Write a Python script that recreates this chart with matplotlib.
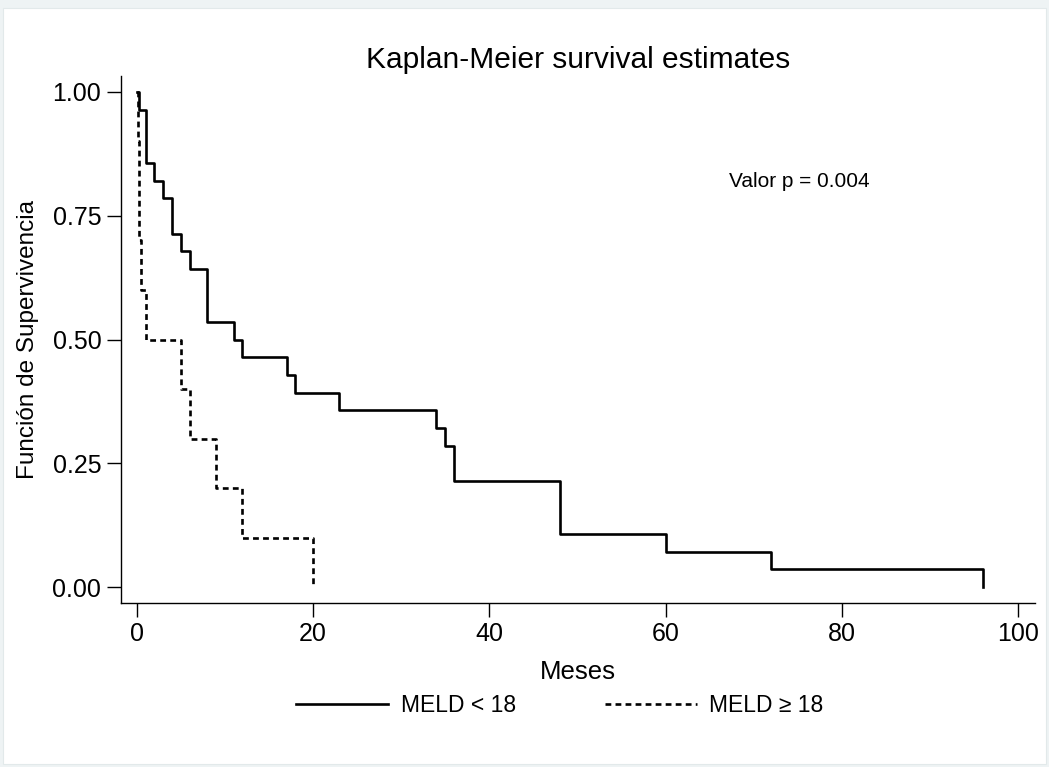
import matplotlib
matplotlib.use("Agg")
import matplotlib.pyplot as plt
from matplotlib.patches import Rectangle
from matplotlib.lines import Line2D

plt.rcParams['font.family'] = ['Liberation Sans', 'DejaVu Sans']

# Kaplan-Meier step data (months, survival after the step)
low_times = [0, 0.25, 1, 2, 3, 4, 5, 6, 8, 11, 12, 17, 18, 23, 34, 35, 36, 48, 60, 72, 96]
low_surv = [1.0, 0.964, 0.857, 0.821, 0.786, 0.714, 0.679, 0.643, 0.536, 0.500, 0.464,
            0.429, 0.393, 0.357, 0.321, 0.286, 0.214, 0.107, 0.071, 0.036, 0.0]

high_times = [0, 0.1, 0.25, 0.5, 1, 5, 6, 9, 12, 20]
high_surv = [1.0, 0.9, 0.7, 0.6, 0.5, 0.4, 0.3, 0.2, 0.1, 0.0]

x_ticks = [0, 20, 40, 60, 80, 100]
y_ticks = [0.0, 0.25, 0.5, 0.75, 1.0]
labels = ["MELD < 18", "MELD \u2265 18"]
p_text = "Valor p = 0.004"

fig = plt.figure(figsize=(10.49, 7.67), dpi=100)
fig.patch.set_facecolor('#eef3f4')
fig.patches.append(Rectangle((3 / 1049, 3 / 767), 1043 / 1049, 756 / 767,
                             transform=fig.transFigure, facecolor='white',
                             edgecolor='#e2e9ea', linewidth=0.8, zorder=-5))

ax = fig.add_axes([0.1151, 0.2138, 0.8716, 0.6871])
ax.set_zorder(2)
ax.patch.set_alpha(0)

dash = (0, (2.2, 1.6))
ax.step(low_times, low_surv, where='post', color='black', linewidth=1.9)
ax.step(high_times, high_surv, where='post', color='black', linewidth=1.9,
        linestyle=dash)

ax.set_xlim(-1.81, 101.9)
ax.set_ylim(-0.0317, 1.032)
ax.set_xticks(x_ticks)
ax.set_yticks(y_ticks)
ax.set_yticklabels([f"{v:.2f}" for v in y_ticks])
ax.tick_params(axis='both', direction='out', length=10, width=1, labelsize=18,
               pad=4, color='black')

for s in ['top', 'right']:
    ax.spines[s].set_visible(False)
for s in ['left', 'bottom']:
    ax.spines[s].set_linewidth(1)

ax.set_title("Kaplan-Meier survival estimates", fontsize=21.5, pad=6)
ax.set_xlabel("Meses", fontsize=18.5, labelpad=10)
ax.set_ylabel("Funci\u00f3n de Supervivencia", fontsize=17.5, labelpad=10)

ax.text(75.2, 0.82, p_text, fontsize=15, ha='center', va='center')

handles = [Line2D([], [], color='black', linewidth=1.9),
           Line2D([], [], color='black', linewidth=1.9, linestyle=dash)]
fig.legend(handles, labels, loc='center', bbox_to_anchor=(560 / 1049, 1 - 706 / 767),
           ncol=2, frameon=False, fontsize=16.5, handlelength=4.0, columnspacing=3.9,
           handletextpad=0.55)

fig.savefig("out.png", dpi=100, facecolor=fig.get_facecolor())
